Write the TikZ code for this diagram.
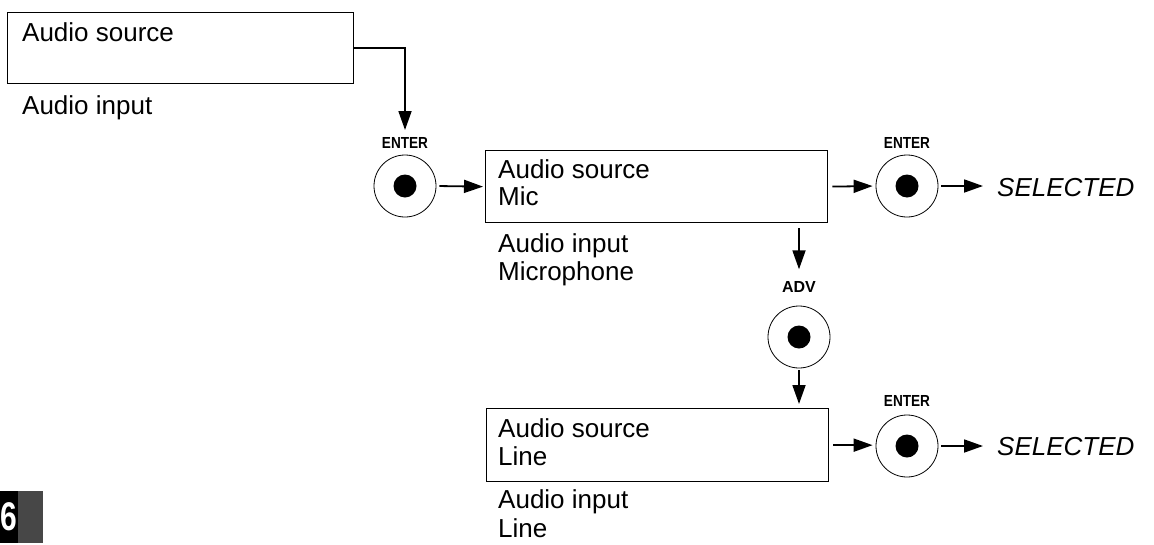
\documentclass[tikz,border=0pt]{standalone}
\usepackage{fontspec}
\setmainfont{Liberation Sans}
\usetikzlibrary{arrows.meta}
\begin{document}
\begin{tikzpicture}[x=1pt,y=-1pt,
  txt/.style={anchor=base west,inner sep=0pt,font=\fontsize{26}{28}\selectfont},
  sel/.style={anchor=west,inner sep=0pt,font=\fontsize{26}{28}\selectfont\itshape},
  boxx/.style={draw,line width=1.3pt,inner sep=0pt,anchor=north west,minimum width=342pt,minimum height=72pt},
  btn/.style={draw,circle,line width=0.8pt,minimum size=62pt,inner sep=0pt},
  lbl/.style={inner sep=0pt,font=\fontsize{16}{16}\selectfont\bfseries},
  arr/.style={line width=1.8pt,-{Triangle[length=19pt,width=13pt]}},
]
\useasboundingbox (0,0) rectangle (1154,544);
% top box
\node[boxx,minimum width=346pt,minimum height=71pt] (b1) at (7,12) {};
\node[txt] (t1a) at (22,41) {Audio source};
\node[txt] (t1b) at (22,114) {Audio input};
% box 2
\node[boxx] (b2) at (485,150) {};
\node[txt] (t2a) at (498,178) {Audio source};
\node[txt] (t2b) at (498,205) {Mic};
\node[txt] (t2c) at (498,252) {Audio input};
\node[txt] (t2d) at (498,280) {Microphone};
% box 3
\node[boxx,minimum height=73pt] (b3) at (486,408) {};
\node[txt] (t3a) at (498,437) {Audio source};
\node[txt] (t3b) at (498,465) {Line};
\node[txt] (t3c) at (498,508) {Audio input};
\node[txt] (t3d) at (498,537) {Line};
% buttons
\node[btn] (c1) at (405,186) {};
\fill (c1.center) circle (11.5);
\node[lbl] (l1) at (405,143) {\scalebox{0.85}[1]{ENTER}};
\node[btn] (c2) at (907,186) {};
\fill (c2.center) circle (11.5);
\node[lbl] (l2) at (907,143) {\scalebox{0.85}[1]{ENTER}};
\node[btn] (c3) at (799,337) {};
\fill (c3.center) circle (11.5);
\node[lbl] (l3) at (799,287) {ADV};
\node[btn] (c4) at (907,446) {};
\fill (c4.center) circle (11.5);
\node[lbl] (l4) at (907,401) {\scalebox{0.85}[1]{ENTER}};
% selected
\node[sel] (s1) at (997,188) {SELECTED};
\node[sel] (s2) at (997,447) {SELECTED};
% connectors
\coordinate (e1) at (405,130);
\draw[arr] (b1.east) -| (e1);
\draw[arr,shorten <=3pt,shorten >=2pt] (c1.east) -- (b2.west);
\draw[arr,shorten <=4pt,shorten >=3pt] (b2.east) -- (c2.west);
\draw[arr,shorten <=3pt,shorten >=14pt] (c2.east) -- (s1.west |- c2);
\draw[arr,shorten <=5pt,shorten >=12pt] (b2.south -| c3) -- (l3.north);
\draw[arr,shorten <=2pt,shorten >=4pt] (c3.south) -- (c3.south |- b3.north);
\draw[arr,shorten <=4pt,shorten >=3pt] (b3.east) -- (b3.east -| c4.west);
\draw[arr,shorten <=3pt,shorten >=14pt] (c4.east) -- (s2.west |- c4);
% page tab
\fill[black] (0,491) rectangle (18,543);
\fill[black!72] (18,491) rectangle (43,543);
\node[inner sep=0pt,text=white,font=\fontsize{40}{40}\selectfont\bfseries] (pg) at (9,517) {\scalebox{0.75}[1]{6}};
\end{tikzpicture}
\end{document}
